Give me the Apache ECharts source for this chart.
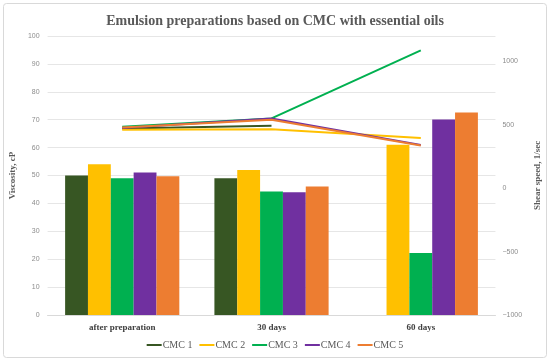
<!DOCTYPE html>
<html>
<head>
<meta charset="utf-8">
<script src="https://cdn.jsdelivr.net/npm/echarts@6/dist/echarts.min.js"></script>
<style>html,body{margin:0;padding:0;background:#fff}#c{width:550px;height:361px}</style>
</head>
<body>
<div id="c"></div>
<script>
const categories = ['after preparation', '30 days', '60 days'];
const seriesNames = ['CMC 1', 'CMC 2', 'CMC 3', 'CMC 4', 'CMC 5'];
const colors = ['#375623', '#FFC000', '#00B050', '#7030A0', '#ED7D31'];
// viscosity, cP (bars, left axis)
const visc1 = [50, 49, null];
const visc2 = [54, 52, 61];
const visc3 = [49, 44.3, 22.2];
const visc4 = [51.1, 44, 70.1];
const visc5 = [49.7, 46.1, 72.6];
// shear speed, 1/sec (lines, right axis)
const shear1 = [470, 493, null];
const shear2 = [460, 465, 396];
const shear3 = [484, 550, 1086];
const shear4 = [474, 550, 340];
const shear5 = [478, 540, 336];
const leftTicks = {min: 0, max: 100, interval: 10};
const rightTicks = {min: -1000, max: 1200, interval: 500};

const viscData = [visc1, visc2, visc3, visc4, visc5];
const shearData = [shear1, shear2, shear3, shear4, shear5];

const chart = echarts.init(document.getElementById('c'), null, {renderer: 'canvas'});
const series = [];
seriesNames.forEach((n, i) => {
  series.push({
    name: n, type: 'bar', yAxisIndex: 0, data: viscData[i],
    itemStyle: {color: colors[i]}, barGap: '0%', barCategoryGap: '23.5%'
  });
});
seriesNames.forEach((n, i) => {
  series.push({
    name: n, type: 'line', yAxisIndex: 1, data: shearData[i],
    symbol: 'none', lineStyle: {color: colors[i], width: 2}, itemStyle: {color: colors[i]}
  });
});
chart.setOption({
  animation: false,
  backgroundColor: '#fff',
  title: {
    text: 'Emulsion preparations based on CMC with essential oils',
    left: 'center', top: 9,
    textStyle: {fontFamily: 'Liberation Serif', fontSize: 14, fontWeight: 'bold', color: '#595959'}
  },
  graphic: [{
    type: 'rect', shape: {x: 3.5, y: 3.5, width: 543, height: 354, r: 3},
    style: {fill: 'none', stroke: '#d9d9d9', lineWidth: 1}, silent: true, z: -1
  }],
  legend: {
    bottom: 6, left: 'center', icon: 'rect', itemWidth: 15, itemHeight: 2, itemGap: 7,
    data: seriesNames,
    textStyle: {fontFamily: 'Liberation Serif', fontSize: 10, color: '#595959', padding: [0, 0, 0, -4]}
  },
  grid: {left: 44, right: 48, top: 36, bottom: 46},
  xAxis: {
    type: 'category', data: categories,
    axisLine: {show: true, lineStyle: {color: '#d9d9d9'}}, axisTick: {show: false},
    axisLabel: {fontFamily: 'Liberation Serif', fontWeight: 'bold', fontSize: 9, color: '#404040', margin: 8}
  },
  yAxis: [{
    type: 'value', min: leftTicks.min, max: leftTicks.max, interval: leftTicks.interval,
    name: 'Viscosity, cP', nameLocation: 'middle', nameGap: 27,
    nameTextStyle: {fontFamily: 'Liberation Serif', fontWeight: 'bold', fontSize: 9, color: '#595959'},
    axisLine: {show: false}, axisTick: {show: false},
    axisLabel: {fontFamily: 'Liberation Sans', fontSize: 7, color: '#8c8c8c', margin: 8},
    splitLine: {lineStyle: {color: '#e6e6e6'}}
  }, {
    type: 'value', min: rightTicks.min, max: rightTicks.max, interval: rightTicks.interval,
    name: 'Shear speed, 1/sec', nameLocation: 'middle', nameGap: 30,
    nameTextStyle: {fontFamily: 'Liberation Serif', fontWeight: 'bold', fontSize: 9, color: '#595959'},
    axisLine: {show: false}, axisTick: {show: false},
    axisLabel: {fontFamily: 'Liberation Sans', fontSize: 7, color: '#8c8c8c', margin: 7, showMaxLabel: false,
      formatter: v => (v === 1200 ? '' : String(v).replace('-', '\u2212'))},
    splitLine: {show: false}
  }],
  series: series
});
</script>
</body>
</html>
